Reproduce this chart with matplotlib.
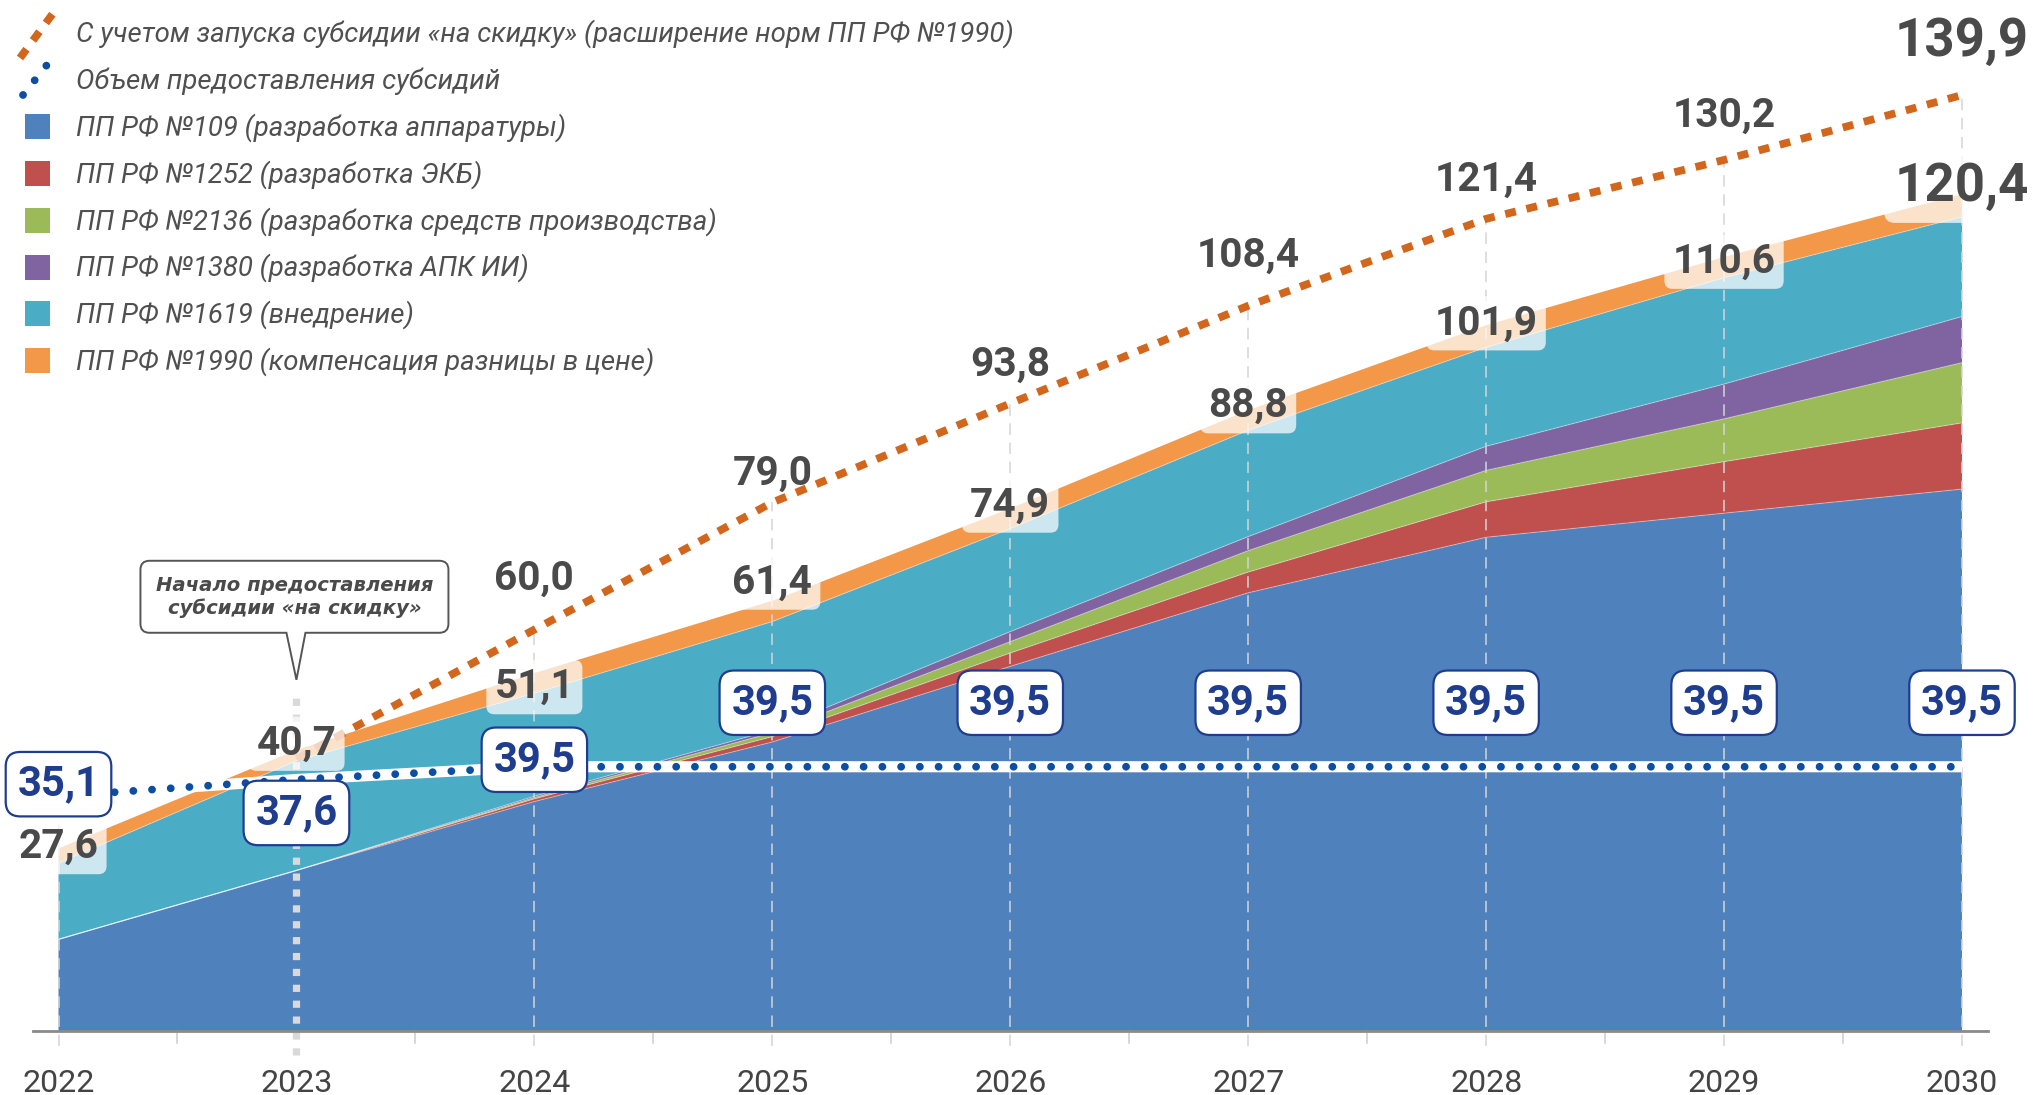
import numpy as np
import matplotlib
matplotlib.use("Agg")
import matplotlib.pyplot as plt
from matplotlib.path import Path
from matplotlib.patches import PathPatch, Rectangle

# ---------------- data ----------------
years = [2022, 2023, 2024, 2025, 2026, 2027, 2028, 2029, 2030]
pp109 = [13.7, 24.0, 34.3, 43.2, 54.5, 65.5, 73.8, 77.4, 81.0]
pp1252 = [0.0, 0.0, 0.4, 0.8, 2.0, 3.1, 5.3, 7.7, 9.9]
pp2136 = [0.0, 0.0, 0.2, 0.6, 1.7, 3.2, 4.7, 6.4, 9.0]
pp1380 = [0.0, 0.0, 0.2, 0.4, 1.5, 2.1, 3.6, 5.2, 6.9]
pp1619 = [11.4, 16.4, 15.4, 16.2, 15.4, 15.9, 14.8, 15.9, 14.9]
pp1990 = [2.2, 1.6, 3.0, 3.1, 3.0, 3.0, 3.3, 3.1, 3.4]
total_labels = [27.6, 40.7, 51.1, 61.4, 74.9, 88.8, 101.9, 110.6, 120.4]

discount_years = [2023, 2024, 2025, 2026, 2027, 2028, 2029, 2030]
discount_total = [40.7, 60.0, 79.0, 93.8, 108.4, 121.4, 130.2, 139.9]

subsidy_volume = [35.1, 37.6, 39.5, 39.5, 39.5, 39.5, 39.5, 39.5, 39.5]

layer_names = [
    "ПП РФ №109 (разработка аппаратуры)",
    "ПП РФ №1252 (разработка ЭКБ)",
    "ПП РФ №2136 (разработка средств производства)",
    "ПП РФ №1380 (разработка АПК ИИ)",
    "ПП РФ №1619 (внедрение)",
    "ПП РФ №1990 (компенсация разницы в цене)",
]
line_names = [
    "С учетом запуска субсидии «на скидку» (расширение норм ПП РФ №1990)",
    "Объем предоставления субсидий",
]
callout_text = "Начало предоставления\nсубсидии «на скидку»"
callout_year = 2023

# ---------------- style / layout ----------------
layer_colors = ["#4F81BD", "#C0504D", "#9BBB59", "#8064A2", "#4BACC6", "#F39849"]
orange_line = "#D2661C"
blue_line = "#0B4EA2"
navy = "#1F3D8F"
grey_txt = "#4A4A4A"

ORANGE_STYLE = dict(color=orange_line, lw=5.6, ls=(0, (1.4, 1.4)), dash_capstyle="butt")
BLUE_STYLE = dict(color=blue_line, lw=5.6, ls=(0, (0.01, 2.4)), dash_capstyle="round")

W, H = 2040, 1095
BASE_PX = 1031          # baseline, pixels from top
PX_PER_UNIT = 6.69
AX_LEFT, AX_RIGHT = 32.5, 1988
YEAR_PAD = 26            # px between axis end and first/last year

FONT = "Roboto"

fig = plt.figure(figsize=(W / 100, H / 100), dpi=100)
ax = fig.add_axes([AX_LEFT / W, (H - BASE_PX) / H, (AX_RIGHT - AX_LEFT) / W, BASE_PX / H])
px_per_year = (AX_RIGHT - AX_LEFT - 2 * YEAR_PAD) / (years[-1] - years[0])
ax.set_xlim(years[0] - YEAR_PAD / px_per_year, years[-1] + YEAR_PAD / px_per_year)
ax.set_ylim(0, BASE_PX / PX_PER_UNIT)
renderer = fig.canvas.get_renderer()


def fit_size(text, target_w, weight="normal", style="normal", family=FONT, base=20.0):
    t = fig.text(0, 0, text, fontsize=base, family=family, weight=weight, style=style)
    w = t.get_window_extent(renderer).width
    t.remove()
    return base * target_w / w


def fmt(v):
    return f"{v:.1f}".replace(".", ",")


# ---------------- stacked areas ----------------
layers = [pp109, pp1252, pp2136, pp1380, pp1619, pp1990]
ax.stackplot(years, *layers, colors=layer_colors, linewidth=0, zorder=1)
cum = np.cumsum(np.array(layers), axis=0)
for row in cum[:-1]:
    ax.plot(years, row, color=(1, 1, 1, 0.35), lw=0.8, zorder=1.5)
stack_top = cum[4]  # top of ПП РФ №1619 layer

# ---------------- axis ----------------
for s in ["top", "left", "right"]:
    ax.spines[s].set_visible(False)
ax.spines["bottom"].set_color("#8A8A8A")
ax.spines["bottom"].set_linewidth(2.0)
ax.spines["bottom"].set_zorder(7)
ax.set_yticks([])
year_fs = fit_size("2022", 72)
ax.set_xticks(years)
ax.set_xticklabels([str(y) for y in years], family=FONT, fontsize=year_fs, color="#444444")
ax.tick_params(axis="x", length=0, pad=27)
ax.patch.set_alpha(0)

# half-year ticks
mids = [(a + b) / 2 for a, b in zip(years[:-1], years[1:])]
for m in mids:
    ax.plot([m, m], [0, -1.8], color="#CCCCCC", lw=1.1, clip_on=False, zorder=2)

# thin dashed year lines
disc_map = dict(zip(discount_years, discount_total))
for i, yr in enumerate(years):
    if yr == callout_year:
        continue
    top = max(disc_map.get(yr, 0), stack_top[i], subsidy_volume[i])
    ax.plot([yr, yr], [-2.3, top], color="#D5D5D5", lw=1.1, ls=(0, (7.5, 5)),
            clip_on=False, zorder=3)

# thick dashed line at start of the discount subsidy
CALLOUT_TIP = 52.5
ax.plot([callout_year, callout_year], [-3.6, CALLOUT_TIP - 2.6], color="#D9D9D9", lw=5.2,
        ls=(0, (1.0, 1.2)), dash_capstyle="butt", clip_on=False, zorder=3.5)

# ---------------- lines ----------------
ax.plot(discount_years, discount_total, zorder=6, **ORANGE_STYLE)
ax.plot(years, subsidy_volume, color="white", lw=8, solid_capstyle="butt", zorder=5.5)
ax.plot(years, subsidy_volume, zorder=6, **BLUE_STYLE)

# ---------------- labels ----------------
lab_fs = fit_size("61,4", 80, weight="bold")
big_fs = fit_size("139,9", 134, weight="bold")
blue_fs = fit_size("39,5", 82, weight="bold")

stack_off = [16, 17, 6, 39, 23, 24, 24, 16, 30]
for i, (yr, v) in enumerate(zip(years, total_labels)):
    fs = big_fs if i == len(years) - 1 else lab_fs
    ax.annotate(fmt(v), xy=(yr, stack_top[i]), xytext=(0, stack_off[i]),
                textcoords="offset pixels", ha="center", va="center",
                fontsize=fs, fontweight="bold", family=FONT, color=grey_txt, zorder=8,
                bbox=dict(boxstyle="round,pad=0.2,rounding_size=0.2", fc="white",
                          ec="none", alpha=0.72))

disc_off = [0, 51, 29, 38.5, 50, 39, 44.5, 54]
for i, (yr, v) in enumerate(zip(discount_years, discount_total)):
    if i == 0:
        continue  # shares the stacked total label
    fs = big_fs if i == len(discount_years) - 1 else lab_fs
    ax.annotate(fmt(v), xy=(yr, v), xytext=(0, disc_off[i]), textcoords="offset pixels",
                ha="center", va="center", fontsize=fs, fontweight="bold", family=FONT,
                color=grey_txt, zorder=8)

blue_off = [12, -33.5, 7, 64, 64, 64, 64, 64, 64]
for i, (yr, v) in enumerate(zip(years, subsidy_volume)):
    ax.annotate(fmt(v), xy=(yr, v), xytext=(0, blue_off[i]), textcoords="offset pixels",
                ha="center", va="center", fontsize=blue_fs, fontweight="bold", family=FONT,
                color=navy, zorder=9,
                bbox=dict(boxstyle="round,pad=0.28,rounding_size=0.35", fc="white",
                          ec=navy, lw=1.6))

# ---------------- overlay (legend, callout) in pixel coordinates ----------------
lax = fig.add_axes([0, 0, 1, 1])
lax.set_xlim(0, W)
lax.set_ylim(H, 0)
lax.axis("off")
lax.patch.set_alpha(0)
lax.set_zorder(5)

leg_fs = fit_size(line_names[0], 936, style="italic")
leg_x = 76
row0, row_h = 33, 46.8
lax.plot([20, 54], [58, 12], **ORANGE_STYLE)
lax.plot([23, 54], [95, 56], **BLUE_STYLE)
for k, name in enumerate(line_names):
    lax.text(leg_x, row0 + k * row_h + 1, name, fontsize=leg_fs, style="italic", family=FONT,
             color="#505050", va="center", ha="left")
for k, (name, c) in enumerate(zip(layer_names, layer_colors)):
    yc = row0 + (k + 2) * row_h
    lax.add_patch(Rectangle((25, yc - 12.5), 25, 25, fc=c, ec="none"))
    lax.text(leg_x, yc + 1, name, fontsize=leg_fs, style="italic", family=FONT,
             color="#505050", va="center", ha="left")

# callout with tail pointing to 2023
tip_disp = ax.transData.transform((callout_year, CALLOUT_TIP))
tx, ty = tip_disp[0], H - tip_disp[1]
L, R, T, B = tx - 156, tx + 152, ty - 119, ty - 47
r = 9
tl, tr = tx - 10, tx + 9
verts = [
    (L + r, T), (R - r, T), (R, T), (R, T + r), (R, B - r), (R, B), (R - r, B),
    (tr, B), (tx, ty), (tl, B), (L + r, B), (L, B), (L, B - r), (L, T + r), (L, T),
    (L + r, T), (L + r, T),
]
codes = [Path.MOVETO, Path.LINETO, Path.CURVE3, Path.CURVE3, Path.LINETO, Path.CURVE3,
         Path.CURVE3, Path.LINETO, Path.LINETO, Path.LINETO, Path.LINETO, Path.CURVE3,
         Path.CURVE3, Path.LINETO, Path.CURVE3, Path.CURVE3, Path.CLOSEPOLY]
lax.add_patch(PathPatch(Path(verts, codes), fc="white", ec="#555555", lw=1.4))
call_fs = fit_size(callout_text.split("\n")[0], 278, weight="bold", style="italic",
                   family="DejaVu Sans")
lax.text((L + R) / 2, (T + B) / 2, callout_text, ha="center", va="center",
         fontsize=call_fs, fontweight="bold", style="italic", family="DejaVu Sans",
         color="#4A4A4A", linespacing=1.25)

fig.savefig("out.png", dpi=100)
